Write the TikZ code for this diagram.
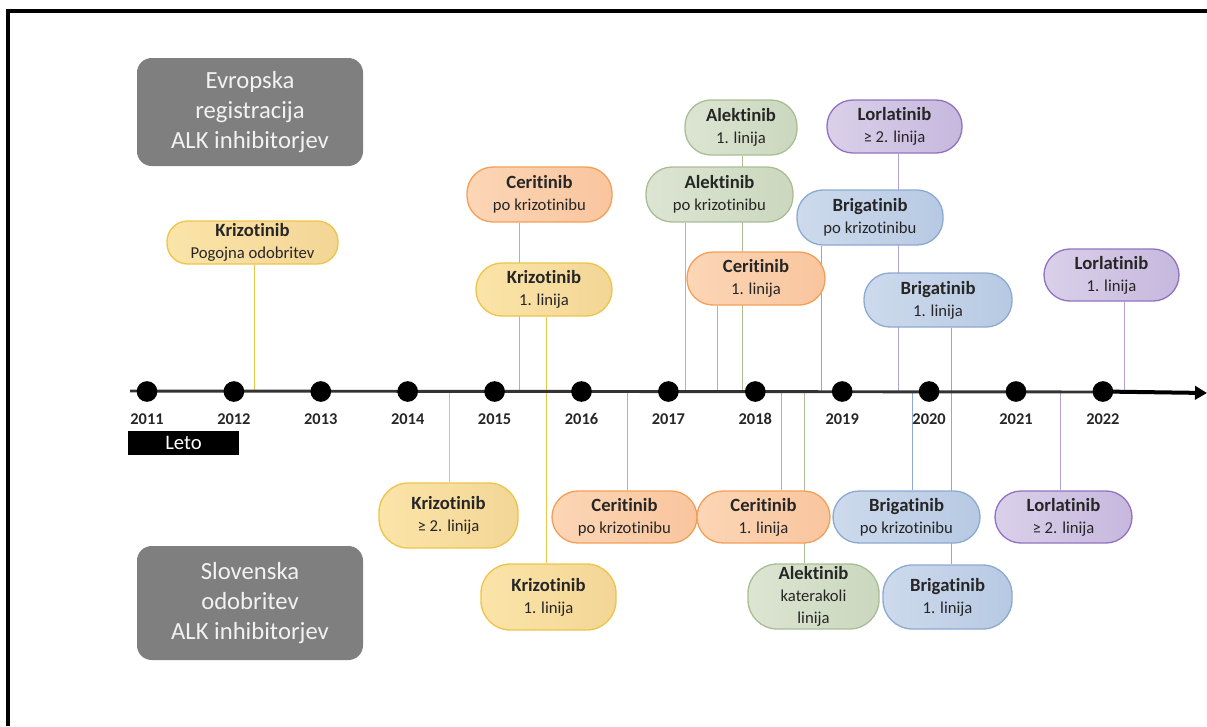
\documentclass[tikz,border=0pt]{standalone}
\usepackage{fontspec}
\setmainfont{Carlito}[Ligatures=NoCommon]
\usepackage{xcolor}
\usetikzlibrary{positioning,arrows.meta,backgrounds}
\definecolor{krizfill}{RGB}{251,228,168}
\definecolor{krizfillb}{RGB}{243,214,150}
\definecolor{krizline}{RGB}{238,196,74}
\definecolor{cerifill}{RGB}{252,214,182}
\definecolor{cerifillb}{RGB}{249,197,158}
\definecolor{ceriline}{RGB}{245,160,88}
\definecolor{alekfill}{RGB}{220,229,210}
\definecolor{alekfillb}{RGB}{203,215,190}
\definecolor{alekline}{RGB}{170,190,150}
\definecolor{brigfill}{RGB}{205,218,236}
\definecolor{brigfillb}{RGB}{183,201,227}
\definecolor{brigline}{RGB}{140,170,210}
\definecolor{lorlfill}{RGB}{218,208,233}
\definecolor{lorlfillb}{RGB}{198,184,222}
\definecolor{lorlline}{RGB}{148,114,192}
\definecolor{lorlstem}{RGB}{180,160,215}
\definecolor{sivo}{RGB}{127,127,127}
\definecolor{belo}{RGB}{242,242,242}
\newcommand{\lek}[2]{{\fontsize{14}{16.5}\selectfont\bfseries #1}\\#2}
\tikzset{
    pill/.style={rounded corners=19.5pt, line width=1pt, inner sep=0pt, align=center,
        text=black!85, font=\fontsize{12.5}{16.5}\selectfont},
    boxsize/.style n args={2}{minimum width=#1*0.75pt, minimum height=#2*0.75pt},
    kriz/.style={pill, draw=krizline, left color=krizfill, right color=krizfillb},
    ceri/.style={pill, draw=ceriline, left color=cerifill, right color=cerifillb},
    alek/.style={pill, draw=alekline, left color=alekfill, right color=alekfillb},
    brig/.style={pill, draw=brigline, left color=brigfill, right color=brigfillb},
    lorl/.style={pill, draw=lorlline, left color=lorlfill, right color=lorlfillb},
    naslov/.style={fill=sivo, text=belo, rounded corners=11pt, align=center,
        font=\fontsize{18.5}{22.5}\selectfont},
    stemline/.style={line width=1.3pt},
    dot/.style={circle, fill=black, inner sep=0pt, minimum size=15.5pt},
    year/.style={font=\fontsize{12.3}{14}\selectfont\bfseries, text=black!85}
}

\begin{document}
\begin{tikzpicture}[x=0.75pt, y=-0.75pt]

    \useasboundingbox (0,0) rectangle (1207,726);

    % Frame
    \draw[line width=2.4pt] (1207,11) -- (8,11) -- (8,726);

    % Headings
    \node[naslov, boxsize={226}{108}] (evropa) at (250,112) {Evropska\\registracija\\ALK inhibitorjev};
    \node[naslov, boxsize={226}{114}] (slovenija) at (250,603) {Slovenska\\odobritev\\ALK inhibitorjev};

    % Timeline
    \coordinate (zacetek) at (130,391);
    \coordinate (konec) at (1207,393);
    \draw[line width=2.2pt, black!80] (zacetek) -- (1103,392);
    \foreach \leto [count=\n from 0] in {2011,...,2022} {
        \node[dot] (t\leto) at ({147+86.9*\n},391.5) {};
        \node[year] (y\leto) at ({147+86.9*\n},419) {\leto};
    }
    \draw[line width=3pt, -{Triangle[length=9pt,width=10pt]}] (t2022.center) -- (konec);
    \node[fill=black, text=white, inner sep=0pt, boxsize={111}{24},
        font=\fontsize{15.5}{18}\selectfont] (leto) at (183.5,443) {Leto};

    % European registration
    \node[kriz, boxsize={171}{43}, rounded corners=15.5pt] (krizPog) at (252.5,242.5) {\lek{Krizotinib}{Pogojna odobritev}};
    \node[ceri, boxsize={145}{55}] (ceriPo) at (539.5,194.5) {\lek{Ceritinib}{po krizotinibu}};
    \node[kriz, boxsize={136}{53}] (krizPrva) at (544,289.5) {\lek{Krizotinib}{1. linija}};
    \node[alek, boxsize={112}{55}] (alekPrva) at (741,127.5) {\lek{Alektinib}{1. linija}};
    \node[alek, boxsize={147}{55}] (alekPo) at (719.5,194.5) {\lek{Alektinib}{po krizotinibu}};
    \node[ceri, boxsize={138}{53}] (ceriPrva) at (756,278.5) {\lek{Ceritinib}{1. linija}};
    \node[lorl, boxsize={135}{53}] (lorlDruga) at (894.5,126.5) {\lek{Lorlatinib}{≥ 2. linija}};
    \node[brig, boxsize={146}{55}] (brigPo) at (870,217.5) {\lek{Brigatinib}{po krizotinibu}};
    \node[brig, boxsize={148}{54}] (brigPrva) at (938,300) {\lek{Brigatinib}{1. linija}};
    \node[lorl, boxsize={135}{52}] (lorlPrva) at (1111.5,275) {\lek{Lorlatinib}{1. linija}};

    % Slovenian approval
    \node[kriz, boxsize={139}{65}, rounded corners=22pt] (krizDrugaS) at (448.5,515.5) {\lek{Krizotinib}{≥ 2. linija}};
    \node[kriz, boxsize={135}{66}, rounded corners=22pt] (krizPrvaS) at (548.5,597) {\lek{Krizotinib}{1. linija}};
    \node[ceri, boxsize={145}{52}] (ceriPoS) at (624.5,517) {\lek{Ceritinib}{po krizotinibu}};
    \node[ceri, boxsize={133}{52}] (ceriPrvaS) at (763.5,517) {\lek{Ceritinib}{1. linija}};
    \node[alek, boxsize={131}{65}, rounded corners=22pt] (alekS) at (813.5,596.5) {\lek{Alektinib}{katerakoli\\linija}};
    \node[brig, boxsize={147}{52}] (brigPoS) at (906.5,517) {\lek{Brigatinib}{po krizotinibu}};
    \node[brig, boxsize={129}{64}, rounded corners=22pt] (brigPrvaS) at (947.5,597) {\lek{Brigatinib}{1. linija}};
    \node[lorl, boxsize={137}{52}] (lorlDrugaS) at (1063.5,517) {\lek{Lorlatinib}{≥ 2. linija}};

    % Dates on the timeline
    \foreach \ime/\x in {dKrizPog/254, dCeriPo/519, dKrizPrva/546, dAlekPo/685, dCeriPrva/717,
                        dAlekPrva/742, dBrigPo/821, dLorlDruga/898, dBrigPrva/951, dLorlPrva/1124,
                        dKrizDrugaS/449, dCeriPoS/627, dCeriPrvaS/781, dAlekS/804, dBrigPoS/912,
                        dLorlDrugaS/1060}
        \coordinate (\ime) at (\x,391);

    % Stems
    \begin{scope}[on background layer, stemline]
        \draw[krizline] (krizPog.south -| dKrizPog) -- (dKrizPog);
        \draw[ceriline] (ceriPo.south -| dCeriPo) -- (dCeriPo);
        \draw[krizline] (krizPrva.south -| dKrizPrva) -- (krizPrvaS.north -| dKrizPrva);
        \draw[alekline] (alekPo.south -| dAlekPo) -- (dAlekPo);
        \draw[ceriline] (ceriPrva.south -| dCeriPrva) -- (dCeriPrva);
        \draw[alekline] (alekPrva.south -| dAlekPrva) -- (dAlekPrva);
        \draw[brigline] (brigPo.south -| dBrigPo) -- (dBrigPo);
        \draw[lorlstem] (lorlDruga.south -| dLorlDruga) -- (dLorlDruga);
        \draw[brigline] (brigPrva.south -| dBrigPrva) -- (brigPrvaS.north -| dBrigPrva);
        \draw[lorlstem] (lorlPrva.south -| dLorlPrva) -- (dLorlPrva);
        \draw[krizline] (dKrizDrugaS) -- (krizDrugaS.north -| dKrizDrugaS);
        \draw[ceriline] (dCeriPoS) -- (ceriPoS.north -| dCeriPoS);
        \draw[ceriline] (dCeriPrvaS) -- (ceriPrvaS.north -| dCeriPrvaS);
        \draw[alekline] (dAlekS) -- (alekS.north -| dAlekS);
        \draw[brigline] (dBrigPoS) -- (brigPoS.north -| dBrigPoS);
        \draw[lorlstem] (dLorlDrugaS) -- (lorlDrugaS.north -| dLorlDrugaS);
    \end{scope}
\end{tikzpicture}
\end{document}
